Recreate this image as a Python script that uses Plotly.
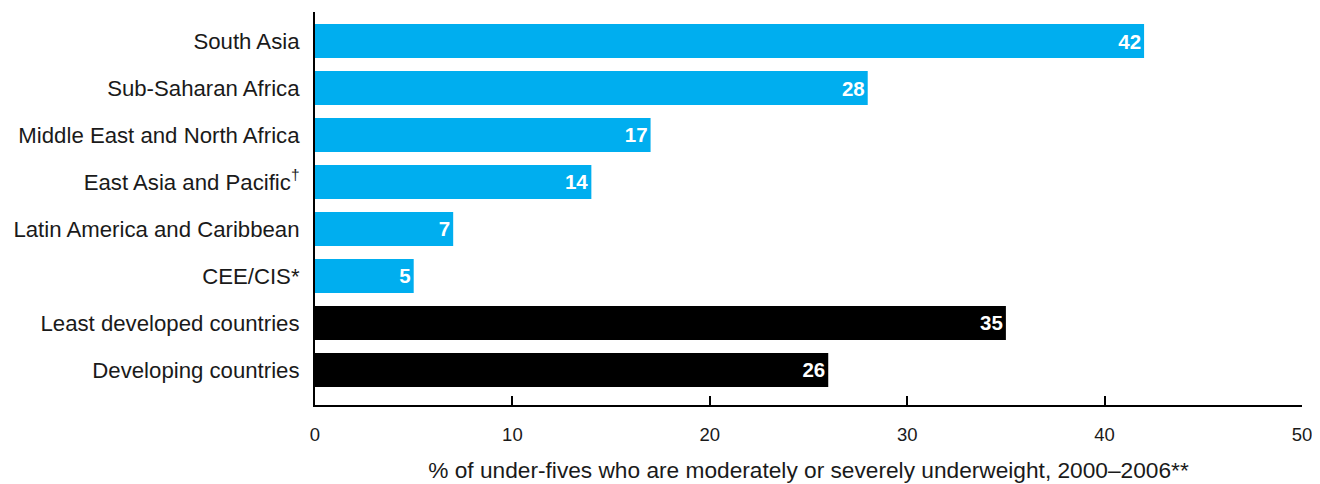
import plotly.graph_objects as go

categories = ["South Asia", "Sub-Saharan Africa", "Middle East and North Africa",
              "East Asia and Pacific<sup>†</sup>", "Latin America and Caribbean",
              "CEE/CIS*", "Least developed countries", "Developing countries"]
values = [42, 28, 17, 14, 7, 5, 35, 26]
bar_colors = ["#00aeef"] * 6 + ["#000000"] * 2
x_ticks = [0, 10, 20, 30, 40, 50]
x_title = "% of under-fives who are moderately or severely underweight, 2000–2006**"

FONT = "Liberation Sans, Arial, sans-serif"
TXT = "#1a1a1a"

fig = go.Figure(go.Bar(
    x=values, y=categories, orientation="h",
    marker=dict(color=bar_colors, line=dict(width=0)),
    width=0.72,
    text=[str(v) for v in values],
    textposition="inside", insidetextanchor="end",
    textfont=dict(color="white", size=20.5, family=FONT, weight="bold"),
    textangle=0,
    cliponaxis=False,
))

# the page body has an 8px default margin; the figure is sized to fill the rest
fig.update_layout(
    width=1312, height=476,
    margin=dict(l=307, r=18, t=4, b=79, autoexpand=False),
    paper_bgcolor="white", plot_bgcolor="white",
    font=dict(family=FONT, size=20, color=TXT),
    showlegend=False,
)
fig.update_yaxes(
    type="category", categoryorder="array", categoryarray=categories,
    range=[7.745, -0.617], autorange=False, automargin=False,
    showline=True, linecolor="black", linewidth=2,
    ticks="", showgrid=False, zeroline=False,
    ticklabelstandoff=9,
    tickfont=dict(size=22.2, color=TXT),
)
fig.update_xaxes(
    range=[0, 50], autorange=False, automargin=False,
    tickvals=x_ticks, ticktext=[str(t) for t in x_ticks],
    showline=True, linecolor="black", linewidth=2,
    ticks="inside", ticklen=9, tickwidth=2, tickcolor="black",
    showgrid=False, zeroline=False,
    tickfont=dict(size=18.5, color=TXT),
    ticklabelstandoff=12,
    title=dict(text=x_title, font=dict(size=22.7, color=TXT), standoff=18),
)

fig.write_html("out.html")
